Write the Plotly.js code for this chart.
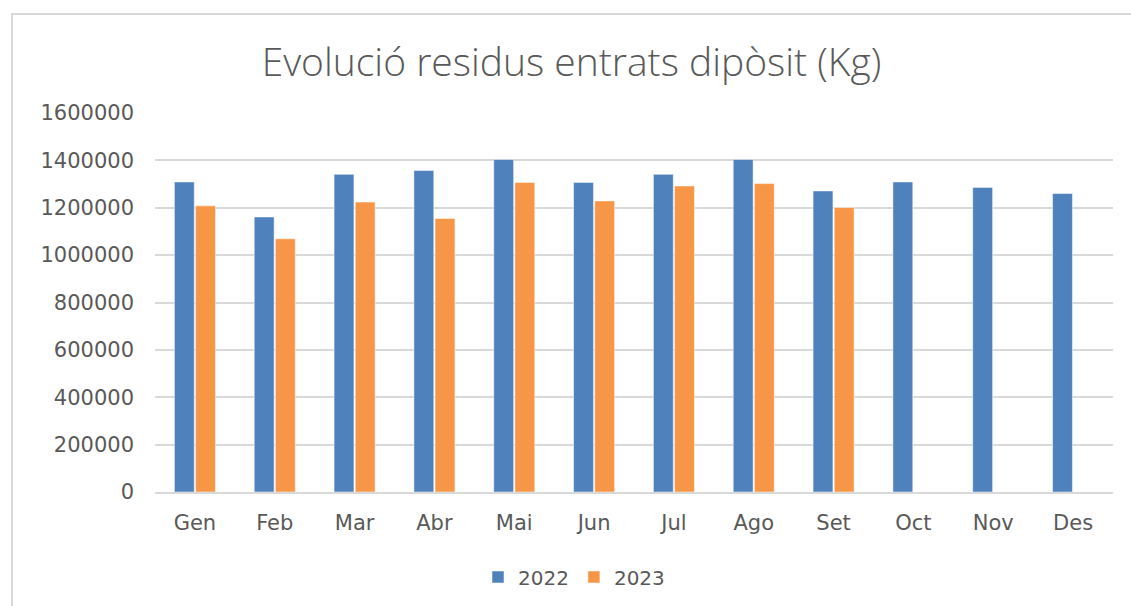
<!DOCTYPE html>
<html>
<head>
<meta charset="utf-8">
<script src="https://cdn.plot.ly/plotly-3.0.1.min.js"></script>
<style>
  html, body { margin: 0; padding: 0; background: #ffffff; overflow: hidden; }
  #frame { position: absolute; left: 11px; top: 13px; width: 1130px; height: 600px;
           border: 2px solid #d9d9d9; box-sizing: border-box; }
  #chart { position: absolute; left: 12px; top: 14px; width: 1119px; height: 592px; }
</style>
</head>
<body>
<div id="frame"></div>
<div id="chart"></div>
<script>
const months = ["Gen","Feb","Mar","Abr","Mai","Jun","Jul","Ago","Set","Oct","Nov","Des"];
const values2022 = [1309000,1161000,1341000,1357000,1404000,1307000,1341000,1404000,1271000,1309000,1286000,1260000];
const values2023 = [1208000,1069000,1224000,1155000,1307000,1229000,1292000,1302000,1201000,null,null,null];
const yTicks = [0,200000,400000,600000,800000,1000000,1200000,1400000,1600000];

const textColor = "#595959";
const tickFont = { family: "DejaVu Sans, sans-serif", size: 21, color: textColor };
const legendFont = { family: "DejaVu Sans, sans-serif", size: 20, color: textColor };
const traces = [
  { type: "bar", name: "2022", x: months, y: values2022,
    marker: { color: "#4f81bd", line: { color: "#ffffff", width: 0.5 } } },
  { type: "bar", name: "2023", x: months, y: values2023,
    marker: { color: "#f79646", line: { color: "#ffffff", width: 0.5 } } }
];
const layout = {
  width: 1119, height: 592,
  margin: { l: 143, r: 18, t: 99, b: 114 },
  paper_bgcolor: "rgba(0,0,0,0)", plot_bgcolor: "#ffffff",
  font: tickFont,
  title: { text: "Evolució residus entrats dipòsit (Kg)", x: 0.5, xanchor: "center",
           y: 1 - 48/592, yanchor: "middle", yref: "container",
           font: { family: "Open Sans, sans-serif", size: 39, weight: 300, color: textColor } },
  barmode: "group", bargap: 0.47, bargroupgap: 0.06,
  xaxis: { type: "category", tickfont: tickFont, showgrid: false,
           showline: true, linecolor: "#d9d9d9", linewidth: 2, ticks: "", ticklen: 0,
           ticklabelstandoff: 11 },
  yaxis: { range: [0, 1600000], tickvals: yTicks, ticktext: yTicks.map(String),
           showgrid: true, gridcolor: "#d9d9d9", gridwidth: 2, zeroline: false,
           showline: false, ticks: "", tickfont: tickFont, ticklabelstandoff: 20 },
  legend: { orientation: "h", x: (478 - 155) / (1113 - 155), xanchor: "left",
            y: 1 - (577 - 14) / 592, yref: "container", yanchor: "middle",
            font: legendFont, itemwidth: 30, tracegroupgap: 0 },
  showlegend: true
};
Plotly.newPlot("chart", traces, layout, { displayModeBar: false, staticPlot: true });
</script>
</body>
</html>
